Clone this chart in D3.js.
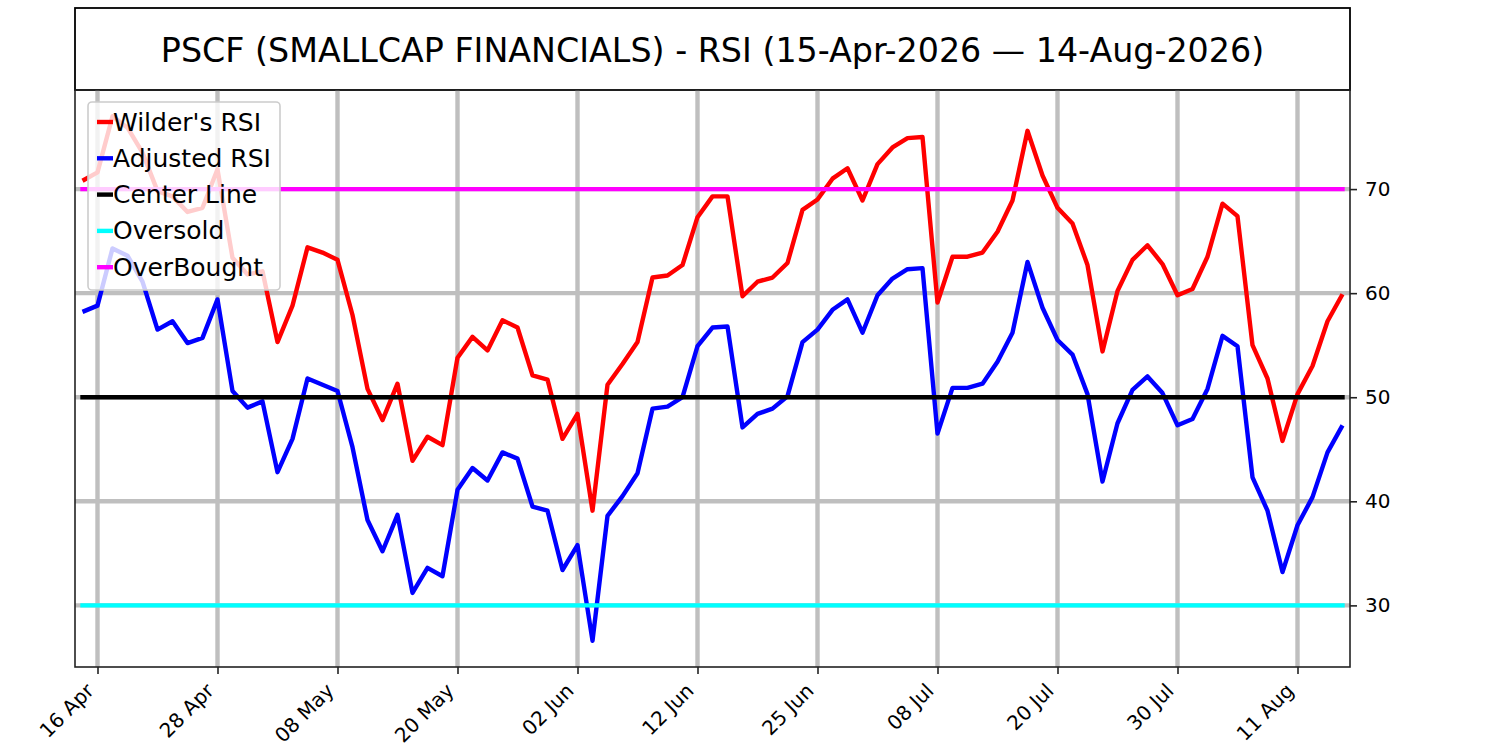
<!DOCTYPE html>
<html>
<head>
<meta charset="utf-8">
<script src="https://cdn.jsdelivr.net/npm/d3@7"></script>
<style>
  body { margin: 0; background: #fff; }
  svg { font-family: "DejaVu Sans", sans-serif; }
  .tick text { font-family: "DejaVu Sans", sans-serif; }
</style>
</head>
<body>
<svg id="chart"></svg>
<script>
const svgWidth = 1500;
const svgHeight = 750;
const plot = { left: 75, right: 1350, top: 90, bottom: 667 };

const title = "PSCF (SMALLCAP FINANCIALS) - RSI (15-Apr-2026 \u2014 14-Aug-2026)";

// RSI values per trading day, 15-Apr-2026 .. 14-Aug-2026
const wilderRsi = [
  70.8, 71.6, 77.0, 75.9, 73.5, 69.8, 69.3, 67.8, 68.2, 71.9, 63.4, 61.8, 62.1, 55.3, 58.8,
  64.4, 63.9, 63.2, 57.9, 50.8, 47.8, 51.3, 43.9, 46.2, 45.4, 53.8, 55.8, 54.5, 57.4,
  56.7, 52.1, 51.7, 46.0, 48.4, 39.1, 51.2, 53.2, 55.3, 61.5, 61.7, 62.7, 67.3, 69.3,
  69.3, 59.7, 61.1, 61.5, 62.9, 68.0, 69.0, 71.0, 72.0, 68.9, 72.4, 74.0, 74.9, 75.0,
  59.1, 63.5, 63.5, 63.9, 65.9, 68.9, 75.6, 71.3, 68.2, 66.7, 62.7, 54.4, 60.2, 63.2,
  64.6, 62.8, 59.8, 60.4, 63.5, 68.6, 67.4, 55.0, 51.8, 45.8, 50.3, 53.0, 57.3, 59.9
];
const adjustedRsi = [
  58.2, 58.8, 64.3, 63.6, 61.1, 56.5, 57.3, 55.2, 55.7, 59.4, 50.6, 49.0, 49.6, 42.8, 46.0,
  51.8, 51.2, 50.6, 45.2, 38.2, 35.2, 38.7, 31.2, 33.6, 32.8, 41.1, 43.2, 42.0, 44.7,
  44.1, 39.5, 39.1, 33.4, 35.8, 26.6, 38.6, 40.5, 42.7, 48.9, 49.1, 50.0, 54.9, 56.7,
  56.8, 47.1, 48.4, 48.9, 50.1, 55.3, 56.5, 58.4, 59.4, 56.2, 59.8, 61.4, 62.3, 62.4,
  46.5, 50.9, 50.9, 51.3, 53.4, 56.2, 63.0, 58.6, 55.5, 54.1, 50.3, 41.9, 47.5, 50.7,
  52.0, 50.4, 47.3, 47.9, 50.8, 55.9, 54.9, 42.3, 39.1, 33.2, 37.7, 40.4, 44.7, 47.3
];

const levelNames = ["Center Line", "Oversold", "OverBought"];
const levelValues = [50, 30, 70];
const levelColors = ["#000000", "#00ffff", "#ff00ff"];

const xTickIndex = [1, 9, 17, 25, 33, 41, 49, 57, 65, 73, 81];
const xTickLabels = ["16 Apr", "28 Apr", "08 May", "20 May", "02 Jun", "12 Jun",
                     "25 Jun", "08 Jul", "20 Jul", "30 Jul", "11 Aug"];
const yTicks = [30, 40, 50, 60, 70];

const seriesNames = ["Wilder's RSI", "Adjusted RSI"];
const seriesColors = ["#ff0000", "#0000ff"];

const n = wilderRsi.length;
const lw = 4.4;

const svg = d3.select("#chart")
  .attr("width", svgWidth)
  .attr("height", svgHeight);

svg.append("rect").attr("width", svgWidth).attr("height", svgHeight).attr("fill", "#fff");

// y range with matplotlib style 5% padding
const allVals = wilderRsi.concat(adjustedRsi);
const yMin = d3.min(allVals), yMax = d3.max(allVals);
const yPad = (yMax - yMin) * 0.05;

const x = d3.scaleLinear().domain([-0.5, n - 0.5]).range([plot.left, plot.right]);
const y = d3.scaleLinear().domain([yMin - yPad, yMax + yPad]).range([plot.bottom, plot.top]);

// title box
svg.append("rect")
  .attr("x", plot.left).attr("y", 8)
  .attr("width", plot.right - plot.left).attr("height", plot.top - 8)
  .attr("fill", "none").attr("stroke", "#000").attr("stroke-width", 1.8);
svg.append("text")
  .attr("x", (plot.left + plot.right) / 2).attr("y", 50)
  .attr("text-anchor", "middle").attr("dominant-baseline", "central")
  .attr("font-size", 33.3).attr("fill", "#000")
  .text(title);

const g = svg.append("g");

// grid
g.selectAll(".vgrid").data(xTickIndex).join("line")
  .attr("x1", d => x(d)).attr("x2", d => x(d))
  .attr("y1", plot.top).attr("y2", plot.bottom)
  .attr("stroke", "#bfbfbf").attr("stroke-width", lw);
g.selectAll(".hgrid").data(yTicks).join("line")
  .attr("x1", plot.left).attr("x2", plot.right)
  .attr("y1", d => y(d)).attr("y2", d => y(d))
  .attr("stroke", "#bfbfbf").attr("stroke-width", lw);

const line = d3.line()
  .x((d, i) => x(i))
  .y(d => y(d));

[wilderRsi, adjustedRsi].forEach((vals, k) => {
  g.append("path")
    .datum(vals)
    .attr("fill", "none")
    .attr("stroke", seriesColors[k])
    .attr("stroke-width", lw)
    .attr("stroke-linejoin", "round")
    .attr("d", line);
});

levelValues.forEach((v, k) => {
  g.append("line")
    .attr("x1", x(0)).attr("x2", x(n - 1))
    .attr("y1", y(v)).attr("y2", y(v))
    .attr("stroke", levelColors[k])
    .attr("stroke-width", lw)
    .attr("stroke-linecap", "square");
});

// frame
svg.append("rect")
  .attr("x", plot.left).attr("y", plot.top)
  .attr("width", plot.right - plot.left).attr("height", plot.bottom - plot.top)
  .attr("fill", "none").attr("stroke", "#222").attr("stroke-width", 1.6);

// axes
const yAxis = svg.append("g")
  .attr("transform", "translate(" + plot.right + ",0)")
  .call(d3.axisRight(y).tickValues(yTicks).tickSize(7).tickPadding(8).tickFormat(d3.format("d")));
yAxis.select(".domain").remove();
yAxis.selectAll("line").attr("stroke", "#222").attr("stroke-width", 1.6);
yAxis.selectAll("text").attr("fill", "#000").style("font-size", "20px");

const xAxis = svg.append("g")
  .attr("transform", "translate(0," + plot.bottom + ")")
  .call(d3.axisBottom(x).tickValues(xTickIndex).tickSize(7)
    .tickFormat((d, i) => xTickLabels[i]));
xAxis.select(".domain").remove();
xAxis.selectAll("line").attr("stroke", "#222").attr("stroke-width", 1.6);
xAxis.selectAll("text")
  .style("font-size", "20px")
  .attr("fill", "#000")
  .attr("text-anchor", "end")
  .attr("y", 0).attr("dy", 0)
  .attr("transform", "translate(-3,25) rotate(-45)");

// legend
const legendNames = seriesNames.concat(levelNames);
const legendColors = seriesColors.concat(levelColors);
const lg = svg.append("g");
lg.append("rect")
  .attr("x", 88).attr("y", 102).attr("width", 192).attr("height", 188)
  .attr("rx", 4)
  .attr("fill", "#fff").attr("fill-opacity", 0.8)
  .attr("stroke", "#cccccc").attr("stroke-width", 1.6);
legendNames.forEach((name, k) => {
  const cy = 122 + k * 36.3;
  lg.append("line")
    .attr("x1", 97).attr("x2", 113).attr("y1", cy).attr("y2", cy)
    .attr("stroke", legendColors[k]).attr("stroke-width", lw);
  lg.append("text")
    .attr("x", 113).attr("y", cy)
    .attr("dominant-baseline", "central")
    .attr("font-size", 25).attr("fill", "#000")
    .text(name);
});
</script>
</body>
</html>
